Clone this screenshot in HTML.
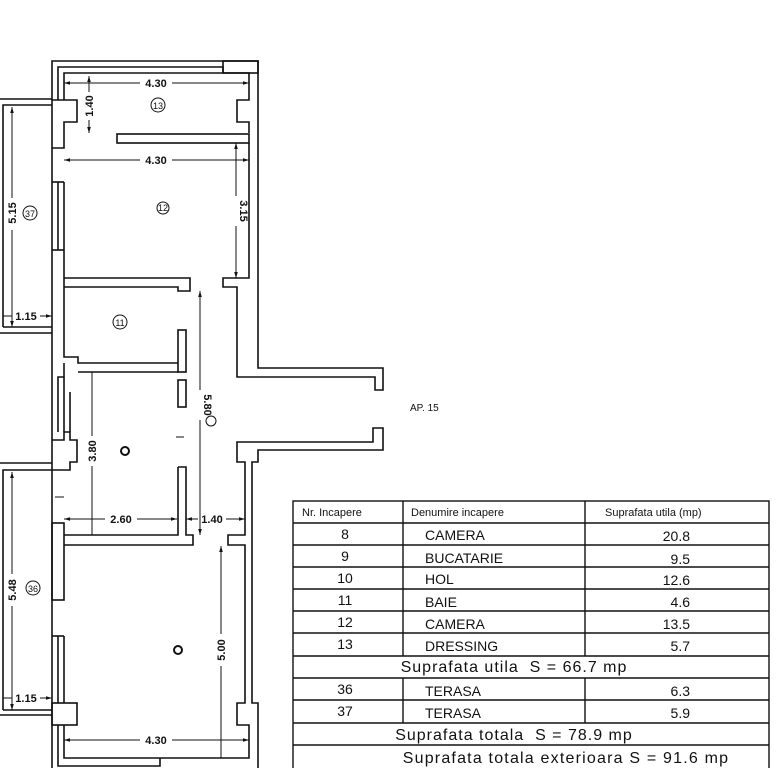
<!DOCTYPE html>
<html><head><meta charset="utf-8"><style>
html,body{margin:0;padding:0;background:#fff;}
svg{display:block;}
text{font-family:"Liberation Sans",sans-serif;fill:#111;}
.d{font-size:11px;font-weight:bold;}
.t{font-size:14px;}
</style></head><body>
<svg width="777" height="768" viewBox="0 0 777 768" xmlns="http://www.w3.org/2000/svg">
<defs>
<marker id="a" viewBox="0 0 10 10" refX="10" refY="5" markerWidth="6" markerHeight="6" orient="auto-start-reverse"><path d="M0,2 L10,5 L0,8z" fill="#111"/></marker>
</defs>
<g fill="none" stroke="#111" stroke-width="1.6">
<polyline points="52,148 52,61 258,61 258,368 383,368 383,390 375,390 375,377 237,377 237,287 223,287 223,278 249,278 249,143"/>
<polyline points="58,100 58,67 223,67 223,73"/>
<polyline points="64,100 64,73 249,73 249,100 237,100 237,122 249,122 249,133"/>
<rect x="223" y="61" width="35" height="12"/>
<rect x="117" y="134" width="132" height="9"/>
<polyline points="52,100 77,100 77,122 64,122 64,148 52,148"/>
<polyline points="0,99 52,99"/><polyline points="3,327 3,105 52,105"/>
<polyline points="3,327 52,327"/><polyline points="0,333 52,333"/>
<polyline points="52,148 52,768"/>
<polyline points="58,182 58,250"/><polyline points="64,182 64,287"/><line x1="52" y1="182" x2="64" y2="182"/><line x1="52" y1="250" x2="64" y2="250"/>
<polyline points="64,278 190,278 190,291 178,291 178,287 64,287"/>
<polyline points="64,287 64,357 78,357 78,363 178,363"/>
<rect x="178" y="330" width="8" height="42"/>
<polyline points="64,363 64,377 58,377 58,392"/><polyline points="78,372 178,372"/>
<polyline points="58,392 58,432"/><polyline points="64,377 64,432"/><polyline points="70,392 70,432"/>
<polyline points="52,440 64,440 64,432 70,432 70,440 77,440 77,462 70,462 70,470 52,470"/>
<rect x="178" y="380" width="8" height="27"/>
<polyline points="0,463 52,463"/><polyline points="3,710 3,470 52,470"/>
<polyline points="3,710 52,710"/><polyline points="0,715 52,715"/>
<polyline points="178,467 186,467 186,535 193,535 193,545 64,545"/>
<polyline points="178,467 178,535 64,535"/>
<rect x="52" y="523" width="12" height="77"/>
<polyline points="58,636 58,703"/><polyline points="64,636 64,703"/><line x1="52" y1="636" x2="64" y2="636"/>
<rect x="52" y="703" width="25" height="22"/>
<polyline points="58,725 58,766 160,766 160,758"/>
<polyline points="64,725 64,758 249,758 249,725 237,725 237,703 245,703 245,545 228,545 228,535 245,535 245,462 237,462 237,442 373,442 373,428 383,428 383,450 258,450 258,462 252,462 252,703 258,703 258,768"/>
</g>
<g stroke="#111" stroke-width="1" fill="none">
<line x1="64" y1="83" x2="140" y2="83" marker-start="url(#a)"/><line x1="172" y1="83" x2="249" y2="83" marker-end="url(#a)"/>
<line x1="89" y1="76" x2="89" y2="92" marker-start="url(#a)"/><line x1="89" y1="120" x2="89" y2="133" marker-end="url(#a)"/>
<line x1="64" y1="160" x2="140" y2="160" marker-start="url(#a)"/><line x1="172" y1="160" x2="249" y2="160" marker-end="url(#a)"/>
<line x1="236" y1="143" x2="236" y2="196" marker-start="url(#a)"/><line x1="236" y1="226" x2="236" y2="278" marker-end="url(#a)"/>
<line x1="12" y1="107" x2="12" y2="198" marker-start="url(#a)"/><line x1="12" y1="230" x2="12" y2="327" marker-end="url(#a)"/>
<line x1="3" y1="316" x2="12" y2="316"/><line x1="40" y1="316" x2="52" y2="316" marker-end="url(#a)"/>
<line x1="200" y1="291" x2="200" y2="390" marker-start="url(#a)"/><line x1="200" y1="420" x2="200" y2="535" marker-end="url(#a)"/>
<line x1="92" y1="372" x2="92" y2="436" /><line x1="92" y1="466" x2="92" y2="535"/>
<line x1="64" y1="519" x2="105" y2="519" marker-start="url(#a)"/><line x1="137" y1="519" x2="177" y2="519" marker-end="url(#a)"/>
<line x1="186" y1="519" x2="198" y2="519" marker-start="url(#a)"/><line x1="226" y1="519" x2="245" y2="519" marker-end="url(#a)"/>
<line x1="12" y1="472" x2="12" y2="574" marker-start="url(#a)"/><line x1="12" y1="606" x2="12" y2="710" marker-end="url(#a)"/>
<line x1="3" y1="698" x2="12" y2="698"/><line x1="40" y1="698" x2="52" y2="698" marker-end="url(#a)"/>
<line x1="221" y1="546" x2="221" y2="634" marker-start="url(#a)"/><line x1="221" y1="666" x2="221" y2="758"/>
<line x1="64" y1="740" x2="140" y2="740" marker-start="url(#a)"/><line x1="172" y1="740" x2="249" y2="740" marker-end="url(#a)"/>
<line x1="176" y1="437" x2="184" y2="437"/><line x1="55" y1="497" x2="64" y2="497"/>
<circle cx="158" cy="105" r="7"/><circle cx="163" cy="208" r="6"/><circle cx="30" cy="213" r="7"/><circle cx="120" cy="322" r="7"/>
<circle cx="211" cy="421" r="5"/><circle cx="125" cy="451" r="4" stroke-width="2"/><circle cx="33" cy="588" r="7"/><circle cx="178" cy="650" r="4" stroke-width="2"/>
</g>
<g class="d">
<text x="156" y="87" text-anchor="middle">4.30</text>
<text x="156" y="164" text-anchor="middle">4.30</text>
<text x="156" y="744" text-anchor="middle">4.30</text>
<text x="121" y="523" text-anchor="middle">2.60</text>
<text x="212" y="523" text-anchor="middle">1.40</text>
<text x="26" y="320" text-anchor="middle">1.15</text>
<text x="26" y="702" text-anchor="middle">1.15</text>
<text transform="translate(93,106) rotate(-90)" text-anchor="middle">1.40</text>
<text transform="translate(240,211) rotate(90)" text-anchor="middle">3.15</text>
<text transform="translate(16,213) rotate(-90)" text-anchor="middle">5.15</text>
<text transform="translate(204,405) rotate(90)" text-anchor="middle">5.80</text>
<text transform="translate(96,451) rotate(-90)" text-anchor="middle">3.80</text>
<text transform="translate(16,590) rotate(-90)" text-anchor="middle">5.48</text>
<text transform="translate(225,650) rotate(-90)" text-anchor="middle">5.00</text>
</g>
<g font-size="9" text-anchor="middle" font-family="Liberation Sans">
<text x="158" y="109">13</text><text x="163" y="211">12</text><text x="30" y="217">37</text><text x="120" y="326">11</text><text x="33" y="592">36</text>
</g>
<text x="410" y="411" font-size="10">AP. 15</text>
<g stroke="#111" stroke-width="1.4" fill="none">
<rect x="293" y="501" width="476" height="270"/>
<line x1="293" y1="523" x2="769" y2="523"/><line x1="293" y1="545" x2="769" y2="545"/>
<line x1="293" y1="567" x2="769" y2="567"/><line x1="293" y1="589" x2="769" y2="589"/>
<line x1="293" y1="611" x2="769" y2="611"/><line x1="293" y1="633" x2="769" y2="633"/>
<line x1="293" y1="656" x2="769" y2="656"/><line x1="293" y1="678" x2="769" y2="678"/>
<line x1="293" y1="700" x2="769" y2="700"/><line x1="293" y1="723" x2="769" y2="723"/>
<line x1="293" y1="745" x2="769" y2="745"/>
<line x1="403" y1="501" x2="403" y2="656"/><line x1="585" y1="501" x2="585" y2="656"/>
<line x1="403" y1="678" x2="403" y2="723"/><line x1="585" y1="678" x2="585" y2="723"/>
</g>
<g font-size="11" font-family="Liberation Sans">
<text x="302" y="516">Nr. Incapere</text><text x="411" y="516">Denumire incapere</text><text x="605" y="516">Suprafata utila (mp)</text>
</g>
<g class="t">
<text x="345" y="539" text-anchor="middle">8</text><text x="425" y="540">CAMERA</text><text x="690" y="541" text-anchor="end">20.8</text>
<text x="345" y="561" text-anchor="middle">9</text><text x="425" y="563">BUCATARIE</text><text x="690" y="564" text-anchor="end">9.5</text>
<text x="345" y="583" text-anchor="middle">10</text><text x="425" y="584">HOL</text><text x="690" y="585" text-anchor="end">12.6</text>
<text x="345" y="605" text-anchor="middle">11</text><text x="425" y="607">BAIE</text><text x="690" y="607" text-anchor="end">4.6</text>
<text x="345" y="627" text-anchor="middle">12</text><text x="425" y="629">CAMERA</text><text x="690" y="629" text-anchor="end">13.5</text>
<text x="345" y="649" text-anchor="middle">13</text><text x="425" y="651">DRESSING</text><text x="690" y="651" text-anchor="end">5.7</text>
<text x="514" y="672" text-anchor="middle" font-size="16" letter-spacing="1" xml:space="preserve">Suprafata utila  S = 66.7 mp</text>
<text x="345" y="694" text-anchor="middle">36</text><text x="425" y="696">TERASA</text><text x="690" y="696" text-anchor="end">6.3</text>
<text x="345" y="716" text-anchor="middle">37</text><text x="425" y="718">TERASA</text><text x="690" y="718" text-anchor="end">5.9</text>
<text x="514" y="740" text-anchor="middle" font-size="16" letter-spacing="1" xml:space="preserve">Suprafata totala  S = 78.9 mp</text>
<text x="566" y="763" text-anchor="middle" font-size="16" letter-spacing="1.2" xml:space="preserve">Suprafata totala exterioara S = 91.6 mp</text>
</g>
</svg>
</body></html>
